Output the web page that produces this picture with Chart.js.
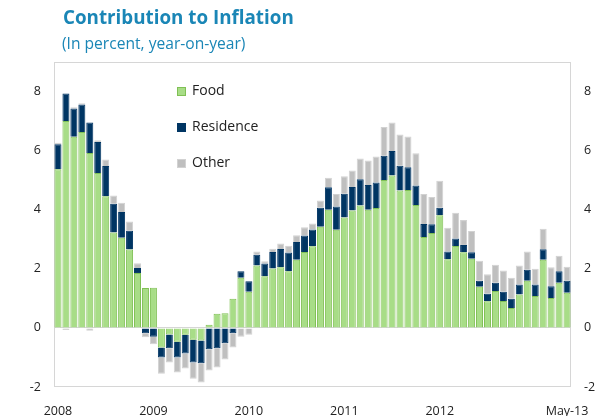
<!DOCTYPE html>
<html>
<head>
<meta charset="utf-8">
<script src="https://cdn.jsdelivr.net/npm/chart.js@4/dist/chart.umd.min.js"></script>
<style>
  html, body { margin: 0; padding: 0; background: #fff; }
  #wrap { position: relative; width: 601px; height: 416px; }
  #c { position: absolute; left: 0; top: 0; }
  .ttl { position: absolute; left: 63px; top: 4px; font: bold 18.8px "Open Sans", sans-serif; color: #1a86b6; white-space: nowrap; }
  .sub { position: absolute; left: 62px; top: 32px; font: 15.6px "Open Sans", sans-serif; color: #1a86b6; white-space: nowrap; }
</style>
</head>
<body>
<div id="wrap">
  <canvas id="c" width="601" height="416"></canvas>
  <div class="ttl">Contribution to Inflation</div>
  <div class="sub">(In percent, year-on-year)</div>
</div>
<script>
// monthly categories, Jan 2008 .. May 2013
const months = [
  "Jan-08","Feb-08","Mar-08","Apr-08","May-08","Jun-08","Jul-08","Aug-08","Sep-08","Oct-08","Nov-08","Dec-08",
  "Jan-09","Feb-09","Mar-09","Apr-09","May-09","Jun-09","Jul-09","Aug-09","Sep-09","Oct-09","Nov-09","Dec-09",
  "Jan-10","Feb-10","Mar-10","Apr-10","May-10","Jun-10","Jul-10","Aug-10","Sep-10","Oct-10","Nov-10","Dec-10",
  "Jan-11","Feb-11","Mar-11","Apr-11","May-11","Jun-11","Jul-11","Aug-11","Sep-11","Oct-11","Nov-11","Dec-11",
  "Jan-12","Feb-12","Mar-12","Apr-12","May-12","Jun-12","Jul-12","Aug-12","Sep-12","Oct-12","Nov-12","Dec-12",
  "Jan-13","Feb-13","Mar-13","Apr-13","May-13"
];
// which categories get a label on the x axis
const tickLabels = { "Jan-08": "2008", "Jan-09": "2009", "Jan-10": "2010", "Jan-11": "2011", "Jan-12": "2012", "May-13": "May-13" };

const seriesNames = ["Food", "Residence", "Other"];

const food = [
  5.37, 7.00, 6.47, 6.63, 5.92, 5.24, 4.46, 3.23, 3.05, 2.65, 1.86, 1.35,
  1.36, -0.66, -0.22, -0.47, -0.23, -0.40, -0.43, 0.11, 0.48, 0.50, 0.99, 1.70,
  1.22, 2.11, 1.75, 2.01, 2.05, 1.92, 2.31, 2.57, 2.76, 3.42, 4.00, 3.32,
  3.74, 3.97, 4.14, 4.00, 4.06, 5.01, 5.16, 4.65, 4.67, 4.16, 3.08, 3.21,
  3.81, 2.32, 2.77, 2.56, 2.34, 1.39, 0.90, 1.25, 0.91, 0.67, 1.13, 1.60,
  1.08, 2.31, 1.01, 1.53, 1.19
];
const residence = [
  0.85, 0.93, 0.96, 0.93, 1.03, 1.05, 1.02, 0.97, 0.87, 0.64, 0.17, -0.18,
  -0.30, -0.34, -0.47, -0.53, -0.64, -0.77, -0.77, -0.72, -0.69, -0.52, -0.18, 0.22,
  0.36, 0.37, 0.43, 0.56, 0.62, 0.63, 0.60, 0.56, 0.57, 0.65, 0.76, 0.79,
  0.80, 0.80, 0.89, 0.84, 0.86, 0.82, 0.83, 0.84, 0.77, 0.66, 0.44, 0.30,
  0.26, 0.27, 0.26, 0.25, 0.22, 0.21, 0.26, 0.28, 0.31, 0.32, 0.34, 0.37,
  0.39, 0.35, 0.40, 0.39, 0.41
];
const other = [
  0.05, -0.07, 0.04, 0.04, -0.10, 0.06, 0.22, 0.28, 0.32, 0.31, 0.16, -0.14,
  -0.25, -0.55, -0.48, -0.51, -0.50, -0.55, -0.65, -0.72, -0.65, -0.55, -0.48, -0.30,
  -0.23, 0.11, 0.08, 0.11, 0.19, 0.23, 0.23, 0.28, 0.20, 0.24, 0.32, 0.42,
  0.59, 0.56, 0.70, 0.83, 0.88, 0.97, 0.96, 1.06, 1.04, 1.09, 1.01, 0.92,
  0.91, 0.80, 0.87, 0.84, 0.72, 0.67, 0.66, 0.61, 0.72, 0.71, 0.64, 0.62,
  0.53, 0.70, 0.64, 0.52, 0.47
];

const fillColors = ["#a8dd87", "#003563", "#bfbfbf"];
const edgeColors = ["#80c055", "#003563", "#d2d2d2"];
const font = { family: "Open Sans", size: 12.5 };

// light frame around the plot area
const framePlugin = {
  id: "frame",
  beforeDatasetsDraw(chart) {
    const { ctx, chartArea: a } = chart;
    ctx.save();
    ctx.strokeStyle = "#d6d6d6";
    ctx.lineWidth = 1;
    ctx.strokeRect(Math.round(a.left) + 0.5, Math.round(a.top) + 0.5, Math.round(a.right - a.left) - 1, Math.round(a.bottom - a.top) - 1);
    ctx.restore();
  }
};

// legend drawn inside the plot, stacked vertically
const insideLegend = {
  id: "insideLegend",
  afterDraw(chart) {
    const { ctx, chartArea: a } = chart;
    ctx.save();
    ctx.font = '14px "Open Sans"';
    ctx.textBaseline = "middle";
    chart.data.datasets.forEach((ds, i) => {
      const x = a.left + 123, y = a.top + 29.5 + i * 36;
      ctx.fillStyle = ds.backgroundColor;
      ctx.fillRect(x, y - 4.5, 9, 9);
      ctx.strokeStyle = ds.borderColor;
      ctx.strokeRect(x + 0.5, y - 4, 8, 8);
      ctx.fillStyle = "#222";
      ctx.fillText(ds.label, x + 15, y);
    });
    ctx.restore();
  }
};

const datasets = [food, residence, other].map((vals, i) => ({
  label: seriesNames[i],
  data: vals,
  backgroundColor: fillColors[i],
  borderColor: edgeColors[i],
  borderWidth: 1,
  barPercentage: 1,
  categoryPercentage: 0.88
}));

new Chart(document.getElementById("c").getContext("2d"), {
  type: "bar",
  data: { labels: months, datasets: datasets },
  options: {
    responsive: false,
    animation: false,
    devicePixelRatio: 1,
    layout: { padding: { top: 62, left: 0, right: 0, bottom: 0 } },
    plugins: { legend: { display: false }, tooltip: { enabled: false } },
    scales: {
      x: {
        stacked: true,
        grid: { display: false },
        border: { display: false },
        ticks: {
          autoSkip: false, maxRotation: 0, minRotation: 0, padding: 9,
          color: "#222", font: font,
          callback: function (v) { return tickLabels[months[v]] || ""; }
        },
        afterFit: s => { s.height = 29; }
      },
      y: {
        stacked: true,
        position: "left",
        min: -2, max: 9,
        border: { display: false },
        grid: { color: c => c.tick.value === 0 ? "#d6d6d6" : "rgba(0,0,0,0)", drawTicks: false },
        ticks: { stepSize: 2, includeBounds: false, padding: 13, color: "#222", font: font },
        afterFit: s => { s.width = 54; }
      },
      y2: {
        position: "right",
        min: -2, max: 9,
        border: { display: false },
        grid: { display: false, drawTicks: false },
        ticks: { stepSize: 2, includeBounds: false, padding: 13, color: "#222", font: font },
        afterFit: s => { s.width = 30; }
      }
    }
  },
  plugins: [framePlugin, insideLegend]
});
</script>
</body>
</html>
